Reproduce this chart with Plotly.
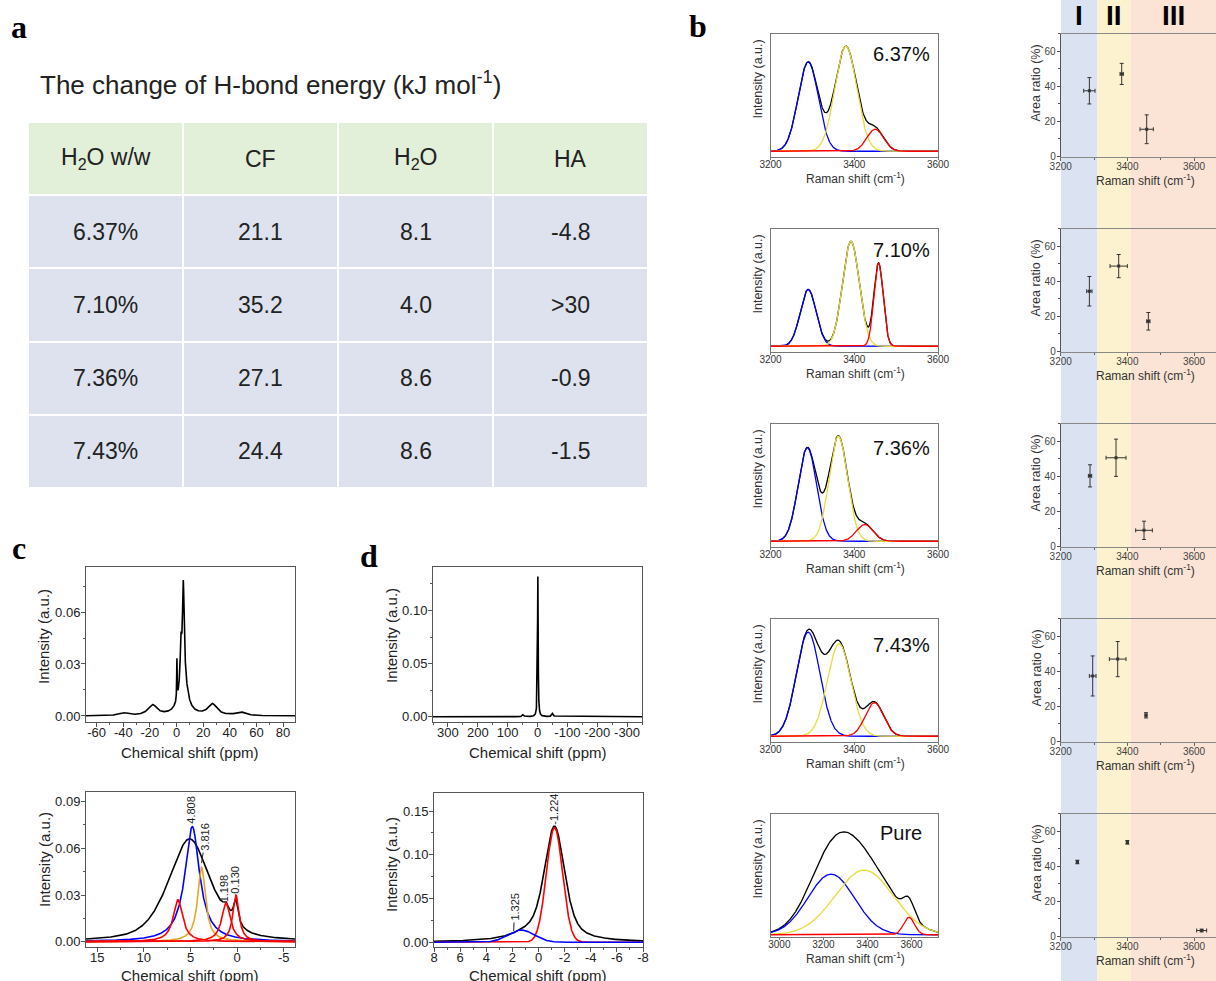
import numpy as np
import plotly.graph_objects as go

W, H = 1216, 981
FONT = "Arial, Liberation Sans, Helvetica, sans-serif"
SERIF = "Times New Roman, Liberation Serif, serif"

# ------------------------------------------------------------------ data
# panel a: change of H-bond energy (kJ mol-1)
table_header = ["H<sub>2</sub>O w/w", "CF", "H<sub>2</sub>O", "HA"]
water_content = ["6.37%", "7.10%", "7.36%", "7.43%"]
cf_energy = ["21.1", "35.2", "27.1", "24.4"]
h2o_energy = ["8.1", "4.0", "8.6", "8.6"]
ha_energy = ["-4.8", ">30", "-0.9", "-1.5"]

# panel c (top): full 1H spectrum, Lorentzian components (ppm, height, HWHM)
c_raw_center = [5.1, 5.0, 3.3, 0.3, -18.0, 27.0, -40.0, 48.0]
c_raw_height = [0.048, 0.028, 0.020, 0.023, 0.006, 0.0065, 0.0015, 0.002]
c_raw_hwhm = [0.7, 3.0, 0.6, 0.2, 4.0, 4.0, 4.0, 4.0]

# panel c (bottom): envelope (Lorentzian + Gaussian parts) and fitted peaks
c_env_lor_center = [5.1, 1.2, 0.15]
c_env_lor_height = [0.0363, 0.006, 0.016]
c_env_lor_hwhm = [2.5, 0.35, 0.3]
c_env_gau = [5.1, 0.0297, 2.4]
c_blue_peak = [4.808, 0.074, 0.95]
c_orange_peak = [3.816, 0.048, 0.5]
c_red_center = [6.35, 1.198, 0.130]
c_red_height = [0.027, 0.025, 0.030]
c_red_hwhm = [0.6, 0.55, 0.4]

# panel d (top): full spectrum
d_raw_center = [-1.2, 48.0, -50.0]
d_raw_height = [0.132, 0.002, 0.003]
d_raw_hwhm = [1.2, 3.0, 3.0]

# panel d (bottom): envelope (Lorentzian + Gaussian parts) and fitted peaks
d_env_lor_center = [-1.224, 1.0]
d_env_lor_height = [0.070, 0.006]
d_env_lor_hwhm = [1.0, 1.5]
d_env_gau = [-1.224, 0.061, 0.75]
d_red_peak = [-1.224, 0.131, 0.62]
d_blue_peak = [1.325, 0.014, 1.0]

# panel b: Raman O-H band deconvolution (centre cm-1, normalised height, sigma)
raman_labels = ["6.37%", "7.10%", "7.36%", "7.43%", "Pure"]
raman_center = [[3290, 3380, 3450], [3290, 3392, 3458], [3288, 3362, 3425],
                [3290, 3364, 3448], [3235, 3385, 3588]]
raman_height = [[0.85, 1.00, 0.21], [0.54, 1.00, 0.79], [0.89, 1.00, 0.16],
                [0.99, 0.88, 0.32], [0.59, 0.63, 0.17]]
raman_sigma = [[24, 26, 20], [19, 20, 11], [22, 22, 20],
               [28, 28, 22], [106, 132, 25]]
raman_xrange = [[3200, 3600], [3200, 3600], [3200, 3600], [3200, 3600], [2960, 3720]]
raman_ticks = [[3200, 3400, 3600]] * 4 + [[3000, 3200, 3400, 3600]]

# panel b: area ratio of components
area_x = [[3286, 3383, 3458], [3286, 3374, 3463], [3288, 3366, 3450],
          [3296, 3371, 3456], [3250, 3400, 3623]]
area_y = [[37.4, 47.0, 15.5], [34.3, 48.6, 17.2], [40.2, 50.5, 9.2],
          [37.3, 46.9, 14.9], [42.4, 53.6, 3.4]]
area_xerr = [[17, 5, 20], [8, 26, 5], [5, 30, 25], [10, 25, 3], [3, 3, 15]]
area_yerr = [[7.5, 6.0, 8.2], [8.4, 6.6, 5.0], [6.3, 10.6, 5.2],
             [11.4, 10.0, 1.5], [1.0, 1.0, 0.8]]
band_edges = [3200, 3310, 3410, 3666]
band_labels = ["I", "II", "III"]


# ------------------------------------------------------------------ helpers
def lor(x, c, h, w):
    return h / (1.0 + ((x - c) / w) ** 2)


def gau(x, c, h, s):
    return h * np.exp(-((x - c) ** 2) / (2 * s * s))


def px_x(a, b):
    return [a / W, b / W]


def px_y(top, bottom):
    return [1 - bottom / H, 1 - top / H]


def nm(i):
    return "" if i == 1 else str(i)


layout = dict(width=W, height=H, margin=dict(l=0, r=0, t=0, b=0),
              paper_bgcolor="white", plot_bgcolor="rgba(0,0,0,0)",
              showlegend=False, template="none",
              font=dict(family=FONT, color="#222"))
annotations = []
shapes = []
traces = []


def add_axes(i, xdom, ydom, xa, ya):
    layout["xaxis" + nm(i)] = dict(domain=xdom, anchor="y" + nm(i), **xa)
    layout["yaxis" + nm(i)] = dict(domain=ydom, anchor="x" + nm(i), **ya)


def frame(**kw):
    d = dict(showline=True, linecolor="#555", linewidth=1, mirror=True,
             ticks="outside", ticklen=4, tickwidth=1, tickcolor="#555",
             showgrid=False, zeroline=False, automargin=False, fixedrange=True,
             tickfont=dict(size=13, color="#222", family=FONT))
    d.update(kw)
    return d


def line(i, x, y, color, width=1.6):
    traces.append(go.Scatter(x=x, y=y, mode="lines", line=dict(color=color, width=width),
                             xaxis="x" + nm(i), yaxis="y" + nm(i), hoverinfo="skip"))


def text(x, y, s, size, angle=0, color="#222", family=FONT, bold=False, xanchor="center"):
    annotations.append(dict(xref="paper", yref="paper", x=x / W, y=1 - y / H, text=s,
                            showarrow=False, textangle=angle, xanchor=xanchor,
                            yanchor="middle",
                            font=dict(size=size, color=color, family=family,
                                      weight="bold" if bold else "normal")))


def hy(vals, fmt="{:g}"):
    return [fmt.format(v) for v in vals]


BLUE, RED, YEL, ORA, BLK = "#0000ff", "#ff0000", "#e6dc3a", "#e9a623", "#000000"
XSO, YSO = -6, -2   # tick-label standoffs for panels c/d

# ------------------------------------------------------------------ panel a (table)
rows = [table_header] + [list(r) for r in zip(water_content, cf_energy, h2o_energy, ha_energy)]
z = [[0] * len(table_header)] + [[1] * len(table_header) for _ in water_content]
traces.append(go.Heatmap(z=z, x=list(range(len(table_header))), y=list(range(len(rows))),
                         colorscale=[[0, "#e2efd9"], [1, "#dde2ee"]], zmin=0, zmax=1,
                         showscale=False, xgap=2, ygap=2, hoverinfo="skip",
                         xaxis="x", yaxis="y"))
add_axes(1, px_x(28, 648), px_y(122, 488),
         dict(visible=False, range=[-0.5, len(table_header) - 0.5], fixedrange=True),
         dict(visible=False, range=[len(rows) - 0.5, -0.5], fixedrange=True))
for r, row in enumerate(rows):
    for c, s in enumerate(row):
        annotations.append(dict(xref="x", yref="y", x=c, y=r, text=s, showarrow=False,
                                font=dict(size=23, color="#222", family=FONT)))
text(38, 83, "The change of H-bond energy (kJ mol<sup>-1</sup>)", 26, xanchor="left")

# ------------------------------------------------------------------ panel c
xc = np.linspace(-68, 89, 8000)
yc = sum(lor(xc, c, h, w) for c, h, w in zip(c_raw_center, c_raw_height, c_raw_hwhm))
line(2, xc, yc, BLK, 1.6)
add_axes(2, px_x(86, 295), px_y(567, 722),
         frame(range=[-68, 89], tickvals=list(range(-60, 81, 20)), ticktext=hy(range(-60, 81, 20)),
               ticklabelstandoff=XSO,
               minor=dict(ticks="outside", ticklen=2, dtick=10, tick0=0, tickcolor="#555")),
         frame(range=[-0.0035, 0.086], tickvals=[0, 0.03, 0.06], ticktext=["0.00", "0.03", "0.06"],
               ticklabelstandoff=YSO,
               minor=dict(ticks="outside", ticklen=2, dtick=0.015, tick0=0, tickcolor="#555")))

xc2 = np.linspace(16.2, -6.2, 3000)
env = sum(lor(xc2, c, h, w) for c, h, w in zip(c_env_lor_center, c_env_lor_height, c_env_lor_hwhm))
env = env + gau(xc2, *c_env_gau)
line(3, xc2, env, BLK)
line(3, xc2, lor(xc2, *c_blue_peak), BLUE)
line(3, xc2, lor(xc2, *c_orange_peak), ORA)
for c, h, w in zip(c_red_center, c_red_height, c_red_hwhm):
    line(3, xc2, lor(xc2, c, h, w), RED)
add_axes(3, px_x(86, 295), px_y(792, 947),
         frame(range=[16.2, -6.2], tickvals=[15, 10, 5, 0, -5], ticktext=hy([15, 10, 5, 0, -5]),
               ticklabelstandoff=XSO,
               minor=dict(ticks="outside", ticklen=2, dtick=2.5, tick0=0, tickcolor="#555")),
         frame(range=[-0.0034, 0.0962], tickvals=[0, 0.03, 0.06, 0.09],
               ticktext=["0.00", "0.03", "0.06", "0.09"], ticklabelstandoff=YSO,
               minor=dict(ticks="outside", ticklen=2, dtick=0.015, tick0=0, tickcolor="#555")))
lab_font = dict(size=11, color="#222", family=FONT)
annotations += [
    dict(xref="x3", yref="y3", x=4.97, y=0.0847, text="4.808",
         showarrow=False, textangle=-90, font=lab_font),
    dict(xref="x3", yref="y3", x=c_orange_peak[0], y=0.0505, text="3.816", showarrow=True,
         arrowhead=0, arrowwidth=1, arrowcolor="#222", ax=4, ay=-26, textangle=-90, font=lab_font),
    dict(xref="x3", yref="y3", x=1.38, y=0.0345, text="1.198", showarrow=False,
         textangle=-90, font=lab_font),
    dict(xref="x3", yref="y3", x=0.21, y=0.040, text="0.130", showarrow=False,
         textangle=-90, font=lab_font),
]

# ------------------------------------------------------------------ panel d
xd = np.linspace(-350, 350, 14001)
yd = sum(lor(xd, c, h, w) for c, h, w in zip(d_raw_center, d_raw_height, d_raw_hwhm))
line(4, xd, yd, BLK, 1.6)
add_axes(4, px_x(433, 642), px_y(567, 722),
         frame(range=[350, -350], tickvals=list(range(300, -301, -100)),
               ticktext=hy(range(300, -301, -100)), ticklabelstandoff=XSO,
               minor=dict(ticks="outside", ticklen=2, dtick=50, tick0=0, tickcolor="#555")),
         frame(range=[-0.005, 0.141], tickvals=[0, 0.05, 0.10], ticktext=["0.00", "0.05", "0.10"],
               ticklabelstandoff=YSO,
               minor=dict(ticks="outside", ticklen=2, dtick=0.025, tick0=0, tickcolor="#555")))

xd2 = np.linspace(8, -8, 3000)
env_d = sum(lor(xd2, c, h, w) for c, h, w in zip(d_env_lor_center, d_env_lor_height, d_env_lor_hwhm))
env_d = env_d + gau(xd2, *d_env_gau)
line(5, xd2, env_d, BLK)
line(5, xd2, gau(xd2, *d_red_peak), RED)
line(5, xd2, gau(xd2, *d_blue_peak), BLUE)
add_axes(5, px_x(434, 643), px_y(793, 947),
         frame(range=[8, -8], tickvals=list(range(8, -9, -2)), ticktext=hy(range(8, -9, -2)),
               ticklabelstandoff=XSO,
               minor=dict(ticks="outside", ticklen=2, dtick=1, tick0=0, tickcolor="#555")),
         frame(range=[-0.0054, 0.1706], tickvals=[0, 0.05, 0.10, 0.15],
               ticktext=["0.00", "0.05", "0.10", "0.15"], ticklabelstandoff=YSO,
               minor=dict(ticks="outside", ticklen=2, dtick=0.025, tick0=0, tickcolor="#555")))
annotations += [
    dict(xref="x5", yref="y5", x=-1.19, y=0.1515, text="-1.224", showarrow=False,
         textangle=-90, font=lab_font),
    dict(xref="x5", yref="y5", x=1.9, y=0.013, text="1.325", showarrow=True,
         arrowhead=0, arrowwidth=1, arrowcolor="#222", ax=1, ay=-24, textangle=-90, font=lab_font),
]

for xt, yt in [(43, 637), (44, 860), (391, 636), (391, 865)]:
    text(xt, yt, "Intensity (a.u.)", 15, angle=-90)
for xt, yt in [(190, 752), (190, 975), (538, 752), (538, 975)]:
    text(xt, yt, "Chemical shift (ppm)", 15)

# ------------------------------------------------------------------ panel b (Raman fits)
label_dy = [20.5, 21.5, 25, 26, 19]
for r in range(5):
    i = 6 + r
    top = 33.5 + 195 * r
    lo, hi = raman_xrange[r]
    xr = np.linspace(lo, hi, 1500)
    comps = [gau(xr, c, h, s) for c, h, s in zip(raman_center[r], raman_height[r], raman_sigma[r])]
    line(i, xr, sum(comps), BLK, 1.3)
    for comp, col in zip(comps, [BLUE, YEL, RED]):
        line(i, xr, comp, col, 1.3)
    ylo = -0.017 if r == 4 else -0.05
    yhi = 1.18 if r == 4 else 1.12
    add_axes(i, px_x(770.5, 938), px_y(top, top + 123),
             frame(range=[lo, hi], tickvals=raman_ticks[r], ticklen=2, linecolor="#777",
                   tickcolor="#777", ticklabelstandoff=-4,
                   tickfont=dict(size=10, color="#333", family=FONT)),
             frame(range=[ylo, yhi], showticklabels=False, ticks="", linecolor="#777"))
    text(901, top + label_dy[r], raman_labels[r], 20, color="#111")
    text(757, top + 46, "Intensity (a.u.)", 12.5, angle=-90, color="#333")
    text(855, top + 144, "Raman shift (cm<sup>-1</sup>)", 12, color="#333")

# ------------------------------------------------------------------ panel b (area ratio)
band_colors = ["#dbe3f3", "#fdf2cf", "#fbe3d5"]
for k in range(3):
    shapes.append(dict(type="rect", xref="x11", yref="paper", x0=band_edges[k], x1=band_edges[k + 1],
                       y0=0, y1=1, fillcolor=band_colors[k], line=dict(width=0), layer="below"))
    annotations.append(dict(xref="x11", yref="paper", x=(band_edges[k] + band_edges[k + 1]) / 2,
                            y=1 - 15.7 / H, text=band_labels[k], showarrow=False,
                            xanchor="center", yanchor="middle",
                            font=dict(size=28, color="#000", family=FONT, weight="bold")))
for r in range(5):
    i = 11 + r
    top = 33.5 + 195 * r
    traces.append(go.Scatter(
        x=area_x[r], y=area_y[r], mode="markers",
        marker=dict(symbol="square", size=3, color="#333"),
        error_x=dict(type="data", array=area_xerr[r], color="#333", thickness=1, width=2),
        error_y=dict(type="data", array=area_yerr[r], color="#333", thickness=1, width=2),
        xaxis="x" + nm(i), yaxis="y" + nm(i), hoverinfo="skip"))
    add_axes(i, px_x(1060.7, 1216), px_y(top, top + 123),
             frame(range=[band_edges[0], band_edges[-1]], tickvals=[3200, 3400, 3600],
                   linecolor="#888", tickcolor="#666", ticklen=3, ticklabelstandoff=-3,
                   tickfont=dict(size=10, color="#444", family=FONT),
                   minor=dict(ticks="outside", ticklen=2, dtick=100, tick0=3200, tickcolor="#666")),
             frame(range=[0, 70], tickvals=[0, 20, 40, 60], mirror=False, ticklen=3,
                   linecolor="#555", tickcolor="#555", ticklabelstandoff=-1,
                   tickfont=dict(size=10, color="#444", family=FONT),
                   minor=dict(ticks="outside", ticklen=2, dtick=10, tick0=0, tickcolor="#555")))
    text(1036, top + 50, "Area ratio (%)", 12.5, angle=-90, color="#333")
    text(1145, top + 146, "Raman shift (cm<sup>-1</sup>)", 12, color="#333")

# ------------------------------------------------------------------ panel letters
for s, x, y in [("a", 19, 27), ("b", 698, 26), ("c", 19, 548), ("d", 369, 556)]:
    text(x, y, s, 32, family=SERIF, bold=True, color="#000")

layout["annotations"] = annotations
layout["shapes"] = shapes
fig = go.Figure(data=traces, layout=layout)
fig.write_html("out.html")
